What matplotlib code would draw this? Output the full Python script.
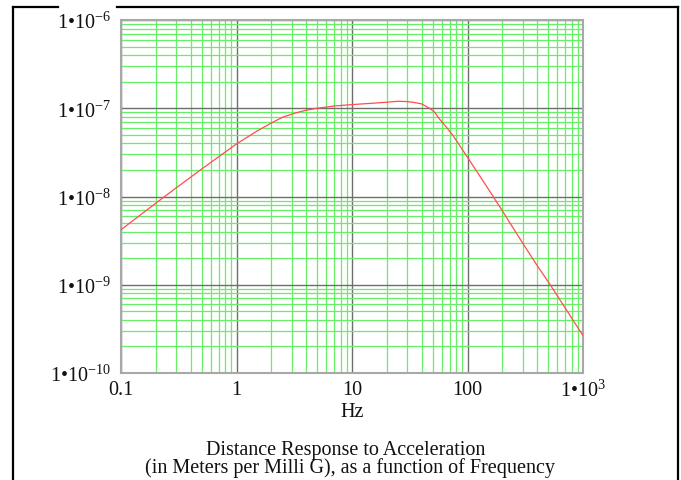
import matplotlib
matplotlib.use("Agg")
import matplotlib.pyplot as plt
from matplotlib.lines import Line2D
from matplotlib.ticker import LogLocator, FixedLocator, NullFormatter

plt.rcParams['font.family'] = ['Liberation Serif', 'DejaVu Serif']
plt.rcParams['mathtext.fontset'] = 'custom'
plt.rcParams['mathtext.rm'] = 'Liberation Serif'
plt.rcParams['mathtext.it'] = 'Liberation Serif:italic'
plt.rcParams['mathtext.bf'] = 'Liberation Serif:bold'

# data
freq_hz = [0.1, 0.2, 0.3, 0.5, 1, 1.5, 2, 2.5, 3.2, 4, 5, 7, 10, 15, 20, 25, 30,
           35, 40, 47, 52, 57, 65, 75, 100, 150, 200, 300, 400, 520, 1000]
response = [4.2e-9, 8.4e-9, 1.25e-8, 2.05e-8, 3.94e-8, 5.5e-8, 6.8e-8, 7.9e-8,
            8.8e-8, 9.5e-8, 1.0e-7, 1.06e-7, 1.1e-7, 1.14e-7, 1.17e-7, 1.2e-7,
            1.19e-7, 1.16e-7, 1.12e-7, 1.0e-7, 9.0e-8, 7.6e-8, 6.2e-8, 4.9e-8,
            2.78e-8, 1.24e-8, 6.9e-9, 2.97e-9, 1.66e-9, 1.0e-9, 2.65e-10]

x_ticks = [0.1, 1, 10, 100, 1000]
x_tick_labels = ['0.1', '1', '10', '100', '1•10$^{3}$']
y_ticks = [1e-10, 1e-9, 1e-8, 1e-7, 1e-6]
y_tick_labels = ['1•10$^{-10}$', '1•10$^{-9}$', '1•10$^{-8}$', '1•10$^{-7}$', '1•10$^{-6}$']

x_label = 'Hz'
caption = ['Distance Response to Acceleration',
           '(in Meters per Milli G), as a function of Frequency']

W, H = 681, 481
fig = plt.figure(figsize=(W / 100, H / 100), dpi=100)
fig.patch.set_facecolor('white')

L, R, T, B = 121, 583, 21, 374
ax = fig.add_axes([L / W, 1 - B / H, (R - L) / W, (B - T) / H])
ax.set_xscale('log')
ax.set_yscale('log')
ax.set_xlim(0.1, 1000)
ax.set_ylim(1e-10, 1e-6)

ax.xaxis.set_minor_locator(LogLocator(base=10, subs=range(2, 10)))
ax.yaxis.set_minor_locator(LogLocator(base=10, subs=range(2, 10)))
ax.xaxis.set_minor_formatter(NullFormatter())
ax.yaxis.set_minor_formatter(NullFormatter())
ax.grid(which='minor', color='#66ee66', linewidth=0.9)
ax.grid(which='major', color='#6e6e6e', linewidth=1.0)
ax.set_axisbelow(True)

ax.plot(freq_hz, response, color='#ff4d4d', linewidth=0.9, zorder=3)

ax.xaxis.set_major_locator(FixedLocator(x_ticks))
ax.set_xticklabels(x_tick_labels)
ax.yaxis.set_major_locator(FixedLocator(y_ticks))
ax.set_yticklabels(y_tick_labels)
ax.tick_params(which='both', length=0, labelsize=14.5, colors='#111111')
ax.tick_params(axis='x', pad=5)
ax.tick_params(axis='y', pad=7)

for sp in ax.spines.values():
    sp.set_color('#a8a8a8')
    sp.set_linewidth(1.5)

# x label and caption
fig.text(352 / W, 1 - 413 / H, x_label, ha='center', va='center', fontsize=14.5, color='#111111')
fig.text(346 / W, 1 - 450 / H, caption[0], ha='center', va='center', fontsize=14.5, color='#111111')
fig.text(350 / W, 1 - 468 / H, caption[1], ha='center', va='center', fontsize=14.5, color='#111111')

# outer frame
def fl(x0, y0, x1, y1):
    fig.add_artist(Line2D([x0 / W, x1 / W], [1 - y0 / H, 1 - y1 / H], color='black',
                          linewidth=1.6, transform=fig.transFigure))

fl(13, 8, 13, 481)
fl(678, 8, 678, 481)
fl(13, 8, 58, 8)
fl(117, 8, 678, 8)

fig.savefig('out.png', dpi=100)
